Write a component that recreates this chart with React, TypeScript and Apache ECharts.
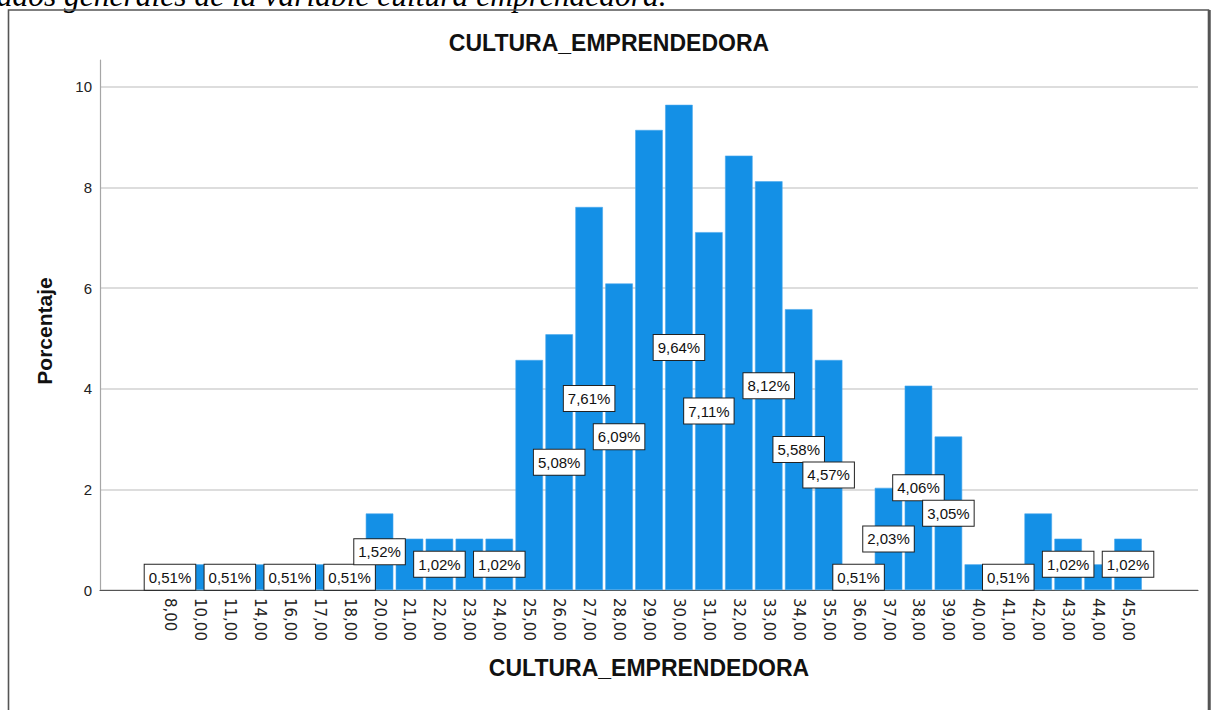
import React, { useEffect, useRef } from "react";
import * as echarts from "echarts";

const categories = [
  "8,00", "10,00", "11,00", "14,00", "16,00", "17,00", "18,00", "20,00", "21,00", "22,00", "23,00",
  "24,00", "25,00", "26,00", "27,00", "28,00", "29,00", "30,00", "31,00", "32,00", "33,00", "34,00",
  "35,00", "36,00", "37,00", "38,00", "39,00", "40,00", "41,00", "42,00", "43,00", "44,00", "45,00",
];
const percentages = [
  0.51, 0.51, 0.51, 0.51, 0.51, 0.51, 0.51, 1.52, 1.02, 1.02, 1.02,
  1.02, 4.57, 5.08, 7.61, 6.09, 9.14, 9.64, 7.11, 8.63, 8.12, 5.58,
  4.57, 0.51, 2.03, 4.06, 3.05, 0.51, 0.51, 1.52, 1.02, 0.51, 1.02,
];
const labeledCategories = [
  "8,00", "11,00", "16,00", "18,00", "20,00", "22,00", "24,00", "26,00", "27,00", "28,00", "30,00",
  "31,00", "33,00", "34,00", "35,00", "36,00", "37,00", "38,00", "39,00", "41,00", "43,00", "45,00",
];
const yMin = 0;
const yMax = 10.53;
const yInterval = 2;

const chartTitle = "CULTURA_EMPRENDEDORA";
const xTitle = "CULTURA_EMPRENDEDORA";
const yTitle = "Porcentaje";
const caption = "Resultados generales de la variable cultura emprendedora.";

const SANS = "'Liberation Sans', Arial, sans-serif";

export default function App() {
  const ref = useRef<HTMLDivElement>(null);

  useEffect(() => {
    if (!ref.current) return;
    const chart = echarts.init(ref.current, undefined, { renderer: "svg" });
    const fmt = (v: number) => v.toFixed(2).replace(".", ",") + "%";
    chart.setOption({
      animation: false,
      backgroundColor: "transparent",
      grid: [
        { left: 100, right: 18, top: 60, bottom: 120, containLabel: false },
        { left: 155, width: 988, top: 60, bottom: 120, containLabel: false },
      ],
      xAxis: [
        {
          type: "value",
          gridIndex: 0,
          min: 0,
          max: 1,
          axisLine: { show: true, onZero: false, lineStyle: { color: "#555", width: 1.2 } },
          axisTick: { show: false },
          axisLabel: { show: false },
          splitLine: { show: false },
        },
        {
          type: "category",
          gridIndex: 1,
          data: categories,
          boundaryGap: true,
          axisLine: { show: false },
          axisTick: { show: false },
          splitLine: { show: false },
          axisLabel: {
            interval: 0,
            rotate: -90,
            margin: 8,
            fontSize: 15,
            fontFamily: "'DejaVu Sans', sans-serif",
            color: "#222",
          },
        },
      ],
      yAxis: [
        {
          type: "value",
          gridIndex: 0,
          min: yMin,
          max: yMax,
          interval: yInterval,
          axisLine: { show: true, lineStyle: { color: "#a6a6a6", width: 1.2 } },
          axisTick: { show: false },
          axisLabel: { fontSize: 15, fontFamily: SANS, color: "#222", margin: 8, showMaxLabel: false },
          splitLine: { show: true, showMaxLine: false, lineStyle: { color: "#d2d2d2", width: 1.6 } },
        },
        {
          type: "value",
          gridIndex: 1,
          min: yMin,
          max: yMax,
          interval: yInterval,
          show: false,
          splitLine: { show: false },
        },
      ],
      series: [
        {
          type: "bar",
          xAxisIndex: 1,
          yAxisIndex: 1,
          barWidth: "92%",
          itemStyle: { color: "#1490e6", borderColor: "#4aa8ec", borderWidth: 0.6 },
          data: percentages.map((v, i) => ({
            value: v,
            label: { show: labeledCategories.includes(categories[i]) },
          })),
          label: {
            position: "inside",
            formatter: (p: any) => fmt(p.value),
            fontSize: 15,
            fontFamily: SANS,
            color: "#111",
            backgroundColor: "#ffffff",
            borderColor: "#222",
            borderWidth: 1,
            padding: [4, 4, 3, 4],
            lineHeight: 18,
          },
        },
      ],
      graphic: [
        {
          type: "rect",
          shape: { x: 8.5, y: 10, width: 1200, height: 800 },
          style: { fill: "none", stroke: "#555", lineWidth: 1.6 },
          silent: true,
        },
        {
          type: "line",
          shape: { x1: 1209.5, y1: 10, x2: 1209.5, y2: 710 },
          style: { stroke: "#555", lineWidth: 2.5 },
          silent: true,
        },
        {
          type: "text",
          x: 609,
          y: 43,
          style: {
            text: chartTitle,
            font: "bold 23px " + SANS,
            fill: "#111",
            align: "center",
            verticalAlign: "middle",
          },
        },
        {
          type: "text",
          x: 649,
          y: 668,
          style: {
            text: xTitle,
            font: "bold 23px " + SANS,
            fill: "#111",
            align: "center",
            verticalAlign: "middle",
          },
        },
        {
          type: "text",
          x: 44,
          y: 331,
          rotation: Math.PI / 2,
          style: {
            text: yTitle,
            font: "bold 21px " + SANS,
            fill: "#111",
            align: "center",
            verticalAlign: "middle",
          },
        },
      ],
    });
    return () => chart.dispose();
  }, []);

  return (
    <div
      style={{
        position: "fixed",
        left: 0,
        top: 0,
        width: 1216,
        height: 710,
        overflow: "hidden",
        background: "#fff",
      }}
    >
      <div
        style={{
          position: "absolute",
          left: -82,
          top: -20,
          whiteSpace: "nowrap",
          fontFamily: "'Liberation Serif', 'Times New Roman', serif",
          fontStyle: "italic",
          fontSize: 31.5,
          lineHeight: "31.5px",
          color: "#000",
        }}
      >
        {caption}
      </div>
      <div ref={ref} style={{ position: "absolute", left: 0, top: 0, width: 1216, height: 710 }} />
    </div>
  );
}
